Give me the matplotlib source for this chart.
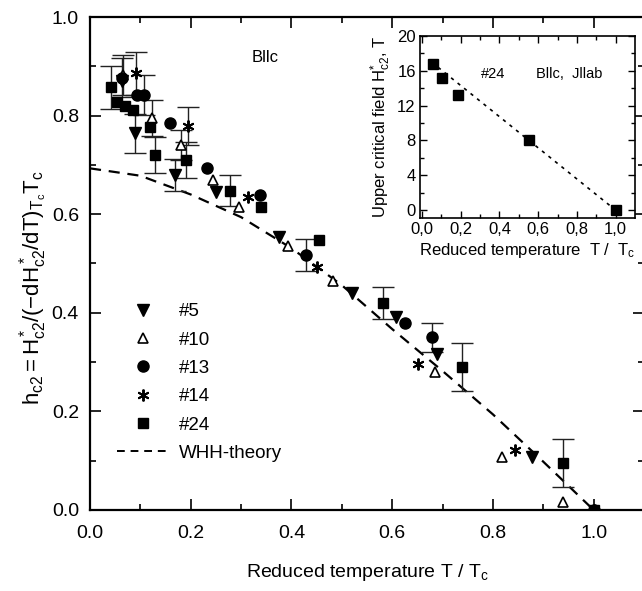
import numpy as np
import matplotlib
matplotlib.use("Agg")
import matplotlib.pyplot as plt
from matplotlib.lines import Line2D

plt.rcParams['font.family'] = ['Liberation Sans', 'DejaVu Sans']
plt.rcParams['mathtext.fontset'] = 'custom'
plt.rcParams['mathtext.rm'] = 'Liberation Sans'
plt.rcParams['mathtext.it'] = 'Liberation Sans'

# sample #5 (down triangles)
t5 = [0.063, 0.089, 0.169, 0.251, 0.375, 0.521, 0.607, 0.689, 0.878]
h5 = [0.870, 0.764, 0.680, 0.646, 0.554, 0.440, 0.391, 0.316, 0.107]
e5 = [0.0, 0.040, 0.032, 0.0, 0.0, 0.0, 0.0, 0.0, 0.0]

# sample #10 (open up triangles)
t10 = [0.066, 0.124, 0.181, 0.245, 0.296, 0.393, 0.483, 0.685, 0.818, 0.940]
h10 = [0.882, 0.795, 0.740, 0.669, 0.615, 0.535, 0.465, 0.279, 0.108, 0.016]
e10 = [0.040, 0.037, 0.030, 0.0, 0.0, 0.0, 0.0, 0.0, 0.0, 0.0]

# sample #13 (circles)
t13 = [0.063, 0.094, 0.107, 0.159, 0.233, 0.337, 0.429, 0.625, 0.679, 1.0]
h13 = [0.877, 0.842, 0.842, 0.784, 0.694, 0.639, 0.517, 0.379, 0.350, 0.0]
e13 = [0.040, 0.0, 0.040, 0.0, 0.0, 0.0, 0.032, 0.0, 0.030, 0.0]

# sample #14 (stars)
t14 = [0.091, 0.194, 0.314, 0.451, 0.651, 0.843, 1.0]
h14 = [0.886, 0.779, 0.634, 0.492, 0.296, 0.122, 0.0]
e14 = [0.044, 0.038, 0.0, 0.0, 0.0, 0.0, 0.0]

# sample #24 (squares)
t24 = [0.042, 0.054, 0.069, 0.085, 0.119, 0.130, 0.190, 0.278, 0.340, 0.454,
       0.581, 0.739, 0.940, 1.0]
h24 = [0.857, 0.828, 0.819, 0.811, 0.777, 0.720, 0.710, 0.648, 0.615, 0.548,
       0.420, 0.290, 0.096, 0.0]
e24 = [0.043, 0.0, 0.0, 0.0, 0.0, 0.036, 0.036, 0.032, 0.0, 0.0,
       0.033, 0.048, 0.049, 0.0]

# WHH theory curve
t_whh = [0.0, 0.1, 0.2, 0.3, 0.4, 0.5, 0.6, 0.7, 0.8, 0.9, 1.0]
h_whh = [0.693, 0.678, 0.640, 0.594, 0.531, 0.456, 0.367, 0.282, 0.194, 0.098, 0.0]

# inset: #24 upper critical field
t_in = [0.057, 0.103, 0.185, 0.552, 1.0]
H_in = [16.8, 15.2, 13.2, 8.1, 0.0]
t_fit = [0.05, 1.0]
H_fit = [17.0, 0.0]

W, H = 642, 591
fig = plt.figure(figsize=(W / 100, H / 100), dpi=100)
ax = fig.add_axes([90 / W, (H - 510) / H, (644 - 90) / W, (510 - 17) / H])

series = [
    (t5, h5, e5, dict(marker='v', color='black', mfc='black', ms=8.5)),
    (t10, h10, e10, dict(marker='^', color='black', mfc='white', ms=7.5, mew=1.2)),
    (t13, h13, e13, dict(marker='o', color='black', mfc='black', ms=8)),
    (t14, h14, e14, dict(marker=(6, 2, 0), color='black', ms=8.5, mew=1.4)),
    (t24, h24, e24, dict(marker='s', color='black', mfc='black', ms=7)),
]

for t, h, e, st in series:
    t = np.array(t)
    h = np.array(h)
    e = np.array(e)
    m = e > 0
    ax.errorbar(t[m], h[m], yerr=e[m], fmt='none', ecolor='#222222',
                elinewidth=1.0, capsize=8, capthick=1.0, zorder=2)
    ax.plot(t, h, linestyle='none', zorder=3, **st)

ax.plot(t_whh, h_whh, color='black', lw=1.6, dashes=(5, 3.5), zorder=1)

ax.set_xlim(0, 1.1)
ax.set_ylim(0, 1.0)
ax.set_xticks(np.arange(0, 1.01, 0.2))
ax.set_yticks(np.arange(0, 1.01, 0.2))
ax.set_xticks(np.arange(0.1, 1.1, 0.2), minor=True)
ax.set_yticks(np.arange(0.1, 1.0, 0.2), minor=True)
ax.tick_params(which='both', direction='in', top=True, right=True, labelsize=14,
               width=1.2)
ax.tick_params(which='major', length=8)
ax.tick_params(axis='x', which='major', pad=11)
ax.tick_params(axis='y', which='major', pad=8)
ax.tick_params(which='minor', length=4)
for s in ax.spines.values():
    s.set_linewidth(1.6)

ax.set_xlabel(r'Reduced temperature T / T$_\mathregular{c}$', fontsize=14, labelpad=14)
ax.set_ylabel(r'$\mathregular{h_{c2} = H^*_{c2}/(-dH^*_{c2}/dT)_{T_c}T_c}$',
              fontsize=16, labelpad=8)
ax.yaxis.set_label_coords(-0.072, 0.45)

ax.text(0.347, 0.917, 'Bllc', fontsize=12, ha='center', va='center')

handles = [
    Line2D([], [], linestyle='none', marker='v', color='black', ms=8.5),
    Line2D([], [], linestyle='none', marker='^', color='black', mfc='white', ms=7.5, mew=1.2),
    Line2D([], [], linestyle='none', marker='o', color='black', ms=8),
    Line2D([], [], linestyle='none', marker=(6, 2, 0), color='black', ms=8.5, mew=1.4),
    Line2D([], [], linestyle='none', marker='s', color='black', ms=7),
    Line2D([], [], color='black', lw=1.4, dashes=(4, 3)),
]
labels = ['#5', '#10', '#13', '#14', '#24', 'WHH-theory']
ax.legend(handles, labels, loc='upper left', bbox_to_anchor=(0.035, 0.435),
          frameon=False, fontsize=13.5, handlelength=2.8, handletextpad=0.5,
          labelspacing=0.6, borderaxespad=0)

# inset
ins = fig.add_axes([420 / W, (H - 218) / H, (635 - 420) / W, (218 - 36) / H])
ins.plot(t_fit, H_fit, color='black', lw=1.2, linestyle=(0, (2, 3)))
ins.plot(t_in, H_in, linestyle='none', marker='s', color='black', ms=7)
ins.set_xlim(-0.01, 1.1)
ins.set_ylim(-0.9, 20)
ins.set_xticks(np.arange(0, 1.01, 0.2))
ins.set_xticklabels(['0,0', '0,2', '0,4', '0,6', '0,8', '1,0'])
ins.set_xticks(np.arange(0.1, 1.1, 0.2), minor=True)
ins.set_yticks(np.arange(0, 21, 4))
ins.set_yticks(np.arange(2, 20, 4), minor=True)
ins.tick_params(which='both', direction='in', top=True, right=True, labelsize=12,
                width=1.0)
ins.tick_params(which='major', length=5, pad=3)
ins.tick_params(which='minor', length=3)
for s in ins.spines.values():
    s.set_linewidth(1.2)
ins.set_xlabel(r'Reduced temperature  T /  T$_\mathregular{c}$', fontsize=12, labelpad=3)
ins.set_ylabel(r'Upper critical field H$^\mathregular{*}_\mathregular{c2}$, T',
               fontsize=12, labelpad=3)
ins.text(0.37, 15.6, '#24', fontsize=10.5, ha='center', va='center')
ins.text(0.76, 15.6, 'Bllc,  Jllab', fontsize=10.5, ha='center', va='center')

fig.savefig('out.png', dpi=100)
